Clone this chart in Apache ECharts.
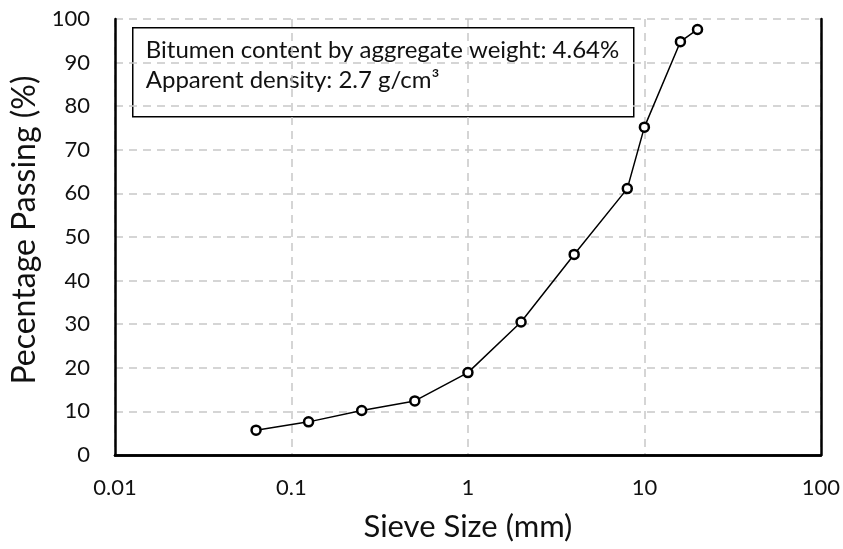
<!DOCTYPE html>
<html>
<head>
<meta charset="utf-8">
<script src="https://cdn.jsdelivr.net/npm/echarts@6/dist/echarts.min.js"></script>
<style>
html, body { margin: 0; padding: 0; background: #fff; }
#main { width: 843px; height: 549px; }
</style>
</head>
<body>
<div id="main"></div>
<script>
// sieve sizes (mm) and percentage passing
var sieveSizes = [0.063, 0.125, 0.25, 0.5, 1, 2, 4, 8, 10, 16, 20];
var passing = [5.7, 7.6, 10.2, 12.4, 18.9, 30.5, 46, 61.1, 75.2, 94.8, 97.6];
var noteLines = ['Bitumen content by aggregate weight: 4.64%', 'Apparent density: 2.7 g/cm³'];

var pts = [];
for (var i = 0; i < sieveSizes.length; i++) {
    pts.push([sieveSizes[i], passing[i]]);
}

var font = 'Lato';
var txtColor = '#111';
var gridLine = { show: true, lineStyle: { color: '#c8c8c8', type: [8, 6], width: 1.5 } };
var frameLine = { show: true, lineStyle: { color: '#000', width: 2.5 } };

var myChart = echarts.init(document.getElementById('main'));
var option = {
    backgroundColor: '#fff',
    animation: false,
    grid: { left: 115, right: 22, top: 19, bottom: 94 },
    xAxis: [{
        type: 'log',
        logBase: 10,
        min: 0.01,
        max: 100,
        name: 'Sieve Size (mm)',
        nameLocation: 'middle',
        nameGap: 56,
        nameTextStyle: { fontFamily: font, fontSize: 31, color: txtColor },
        axisLine: frameLine,
        axisTick: { show: false },
        axisLabel: {
            fontFamily: font, fontSize: 22, color: txtColor, margin: 22,
            formatter: function (v) { return String(+v.toPrecision(3)); }
        },
        splitLine: gridLine
    }, {
        // top frame edge
        type: 'log', logBase: 10, min: 0.01, max: 100, position: 'top',
        axisLine: frameLine, axisTick: { show: false }, axisLabel: { show: false },
        splitLine: { show: false }
    }],
    yAxis: [{
        type: 'value',
        min: 0,
        max: 100,
        interval: 10,
        name: 'Pecentage Passing (%)',
        nameLocation: 'middle',
        nameGap: 71,
        nameTextStyle: { fontFamily: font, fontSize: 32, color: txtColor, padding: [0, 0, 0, 14] },
        axisLine: frameLine,
        axisTick: { show: false },
        axisLabel: { fontFamily: font, fontSize: 22, color: txtColor, margin: 25 },
        splitLine: gridLine
    }, {
        // right frame edge
        type: 'value', min: 0, max: 100, position: 'right',
        axisLine: frameLine, axisTick: { show: false }, axisLabel: { show: false },
        splitLine: { show: false }
    }],
    series: [{
        type: 'line',
        data: pts,
        symbol: 'circle',
        symbolSize: 9,
        lineStyle: { color: '#000', width: 1.5 },
        itemStyle: { color: '#fff', borderColor: '#000', borderWidth: 2.5 }
    }],
    graphic: [{
        type: 'group',
        left: 132,
        top: 27,
        children: [{
            type: 'rect',
            shape: { x: 0, y: 0, width: 501, height: 89 },
            style: { fill: '#fff', stroke: '#000', lineWidth: 1.5 }
        }, {
            type: 'text',
            x: 13,
            y: 8,
            style: {
                text: noteLines.join('\n'),
                fontFamily: font,
                fontSize: 24,
                lineHeight: 30,
                fill: txtColor
            }
        }]
    }]
};
myChart.setOption(option);
</script>
</body>
</html>
